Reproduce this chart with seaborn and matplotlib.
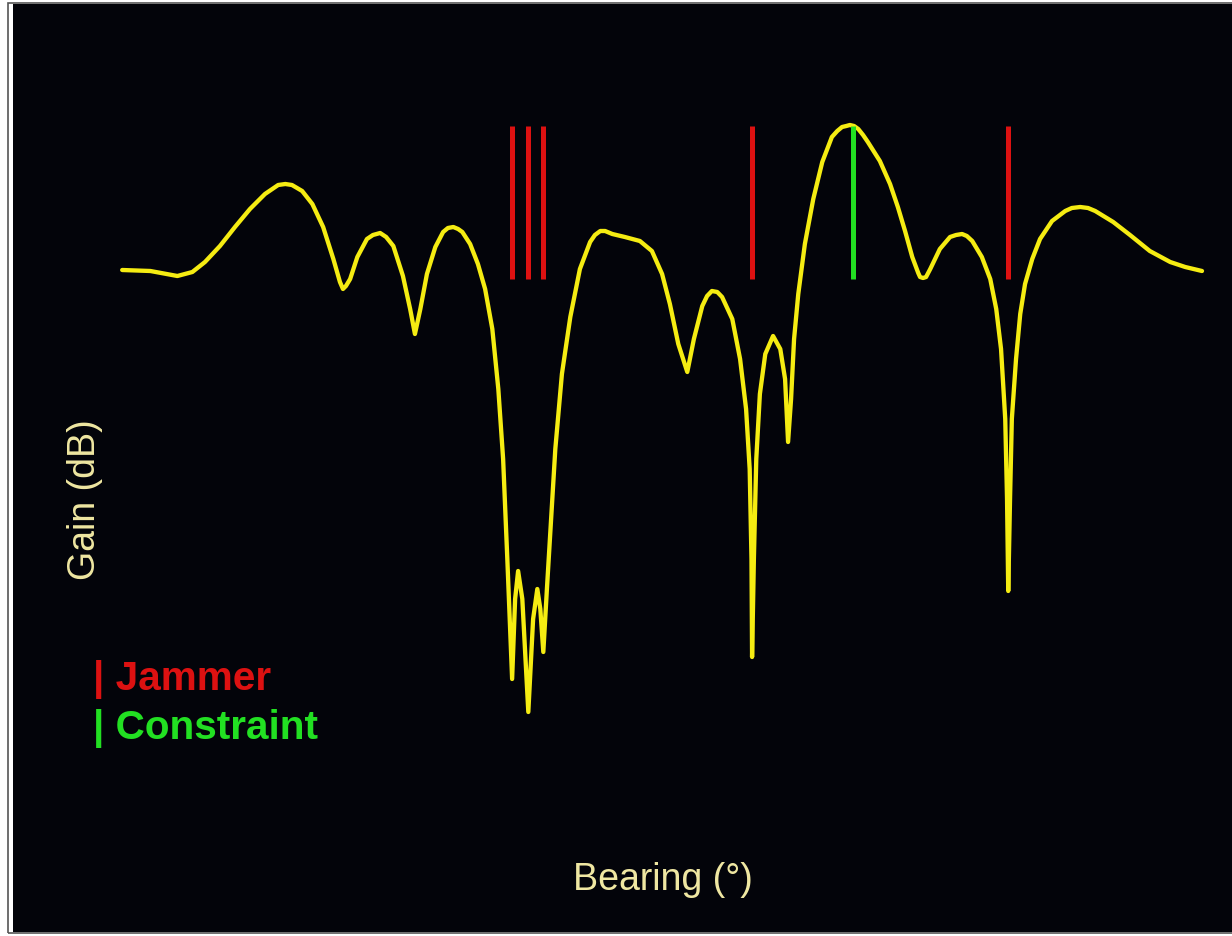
import matplotlib
matplotlib.use("Agg")
import matplotlib.pyplot as plt
import seaborn as sns
import pandas as pd
from matplotlib.patches import Rectangle

# ---- data ----
bearing = [-90.0, -85.3, -80.8, -78.3, -76.2, -73.7, -71.2, -68.7, -66.2, -64.0,
           -62.8, -61.7, -60.0, -58.3, -56.5, -54.8, -53.7, -53.2, -52.7, -52.0,
           -50.8, -49.2, -48.2, -47.0, -46.0, -44.8, -43.2, -42.0, -41.2, -40.3,
           -39.2, -37.8, -36.5, -35.7, -34.8, -34.0, -33.3, -32.0, -30.7, -29.5,
           -28.3, -27.3, -26.5, -25.8, -25.0, -24.5, -24.0, -23.3, -22.3, -21.5,
           -20.8, -20.3, -19.8, -19.2, -18.7, -17.8, -16.7, -15.3, -13.7, -12.0,
           -11.2, -10.3, -9.5, -8.3, -6.2, -3.7, -1.7, 0.0, 1.3, 2.7,
           4.2, 5.3, 6.7, 7.5, 8.3, 9.2, 10.0, 11.7, 13.0, 14.0,
           14.6, 14.9, 15.0, 15.3, 15.7, 16.3, 17.2, 18.5, 19.7, 20.5,
           21.0, 21.5, 22.0, 22.7, 23.8, 25.2, 26.7, 28.3, 29.2, 30.0,
           30.7, 31.3, 32.0, 32.7, 33.5, 34.3, 36.3, 38.0, 39.3, 40.5,
           41.7, 42.7, 43.0, 43.5, 44.0, 44.7, 46.3, 48.0, 49.0, 50.0,
           50.8, 51.7, 53.3, 54.7, 55.7, 56.5, 57.2, 57.5, 57.7, 58.0,
           58.3, 59.0, 59.7, 60.5, 61.7, 63.0, 65.0, 67.2, 68.3, 69.7,
           71.0, 72.2, 75.2, 78.0, 81.3, 84.7, 87.2, 90.0]
gain_db = [-14.4, -14.5, -15.0, -14.6, -13.6, -12.0, -10.1, -8.3, -6.8, -5.9,
           -5.8, -5.9, -6.5, -7.8, -10.1, -13.3, -15.6, -16.3, -16.0, -15.3,
           -13.1, -11.3, -10.9, -10.7, -11.1, -12.0, -15.0, -18.3, -20.8, -18.3,
           -14.8, -12.1, -10.6, -10.2, -10.1, -10.3, -10.6, -11.8, -13.8, -16.3,
           -20.3, -26.3, -33.3, -43.3, -55.3, -47.3, -44.5, -47.3, -58.6, -49.3,
           -46.3, -48.3, -52.6, -46.3, -41.3, -32.3, -24.8, -19.1, -14.3, -11.6,
           -10.9, -10.5, -10.5, -10.8, -11.1, -11.5, -12.5, -14.8, -17.8, -21.8,
           -24.6, -21.3, -18.0, -17.0, -16.5, -16.6, -17.1, -19.3, -23.3, -28.3,
           -34.3, -43.3, -53.1, -43.3, -33.3, -26.8, -22.8, -21.0, -22.3, -25.3,
           -31.6, -27.3, -21.3, -16.8, -11.8, -7.3, -3.6, -1.1, -0.5, -0.1,
           0.0, 0.1, 0.0, -0.3, -0.9, -1.6, -3.5, -5.8, -8.1, -10.5,
           -13.1, -14.7, -15.1, -15.2, -15.1, -14.3, -12.3, -11.1, -10.9, -10.8,
           -11.0, -11.5, -13.1, -15.3, -18.3, -22.3, -29.3, -37.3, -46.5, -37.3,
           -29.3, -23.3, -18.8, -15.8, -13.3, -11.3, -9.5, -8.5, -8.2, -8.1,
           -8.2, -8.5, -9.6, -10.9, -12.5, -13.6, -14.1, -14.5]

jammer_bearings = [-25.0, -22.3, -19.8, 15.0, 57.7]
constraint_bearings = [31.8]
marker_top_db = 0.0
marker_bottom_db = -15.3

x_label = "Bearing (°)"
y_label = "Gain (dB)"
legend_labels = ["| Jammer", "| Constraint"]

# ---- styling ----
sns.set_style("dark")
plt.rcParams["font.family"] = ["Liberation Sans", "DejaVu Sans"]

YELLOW = "#F5EC12"
RED = "#DD1111"
GREEN = "#22E022"
LABEL = "#EFE7A2"

fig = plt.figure(figsize=(12.32, 9.37), dpi=100, facecolor="white")
W, H = 1232, 937
ax = fig.add_axes([13 / W, (H - 933) / H, (W - 13) / W, (933 - 5) / H])
ax.set_facecolor("#03040A")

df = pd.DataFrame({"bearing": bearing, "gain": gain_db})
sns.lineplot(data=df, x="bearing", y="gain", sort=False, color=YELLOW,
             linewidth=3.1, ax=ax, estimator=None)

ax.vlines(jammer_bearings, marker_bottom_db, marker_top_db, colors=RED, linewidth=3.6)
ax.vlines(constraint_bearings, marker_bottom_db, marker_top_db, colors=GREEN, linewidth=3.6)

ax.set_xlim(-108.2, 95.0)
ax.set_ylim(-80.6, 12.2)
ax.set_xticks([])
ax.set_yticks([])
ax.set_xlabel("")
ax.set_ylabel("")
ax.grid(False)
for s in ax.spines.values():
    s.set_visible(False)

ax.text(0.533, 0.057, x_label, transform=ax.transAxes, ha="center", va="center",
        color=LABEL, fontsize=27)
ax.text(0.059, 0.467, y_label, transform=ax.transAxes, ha="center", va="center",
        color=LABEL, fontsize=27, rotation=90)
ax.text(0.066, 0.273, legend_labels[0], transform=ax.transAxes, ha="left", va="center",
        color=RED, fontsize=29.2, fontweight="bold")
ax.text(0.066, 0.220, legend_labels[1], transform=ax.transAxes, ha="left", va="center",
        color=GREEN, fontsize=29.2, fontweight="bold")

# thin grey frame line outside the black panel
fig.add_artist(Rectangle((8 / W, (H - 934) / H), (W + 20) / W, (934 - 4) / H,
                         transform=fig.transFigure, fill=False, edgecolor="#555555",
                         linewidth=1.2, zorder=-1))

fig.savefig("out.png", dpi=100, facecolor="white")
